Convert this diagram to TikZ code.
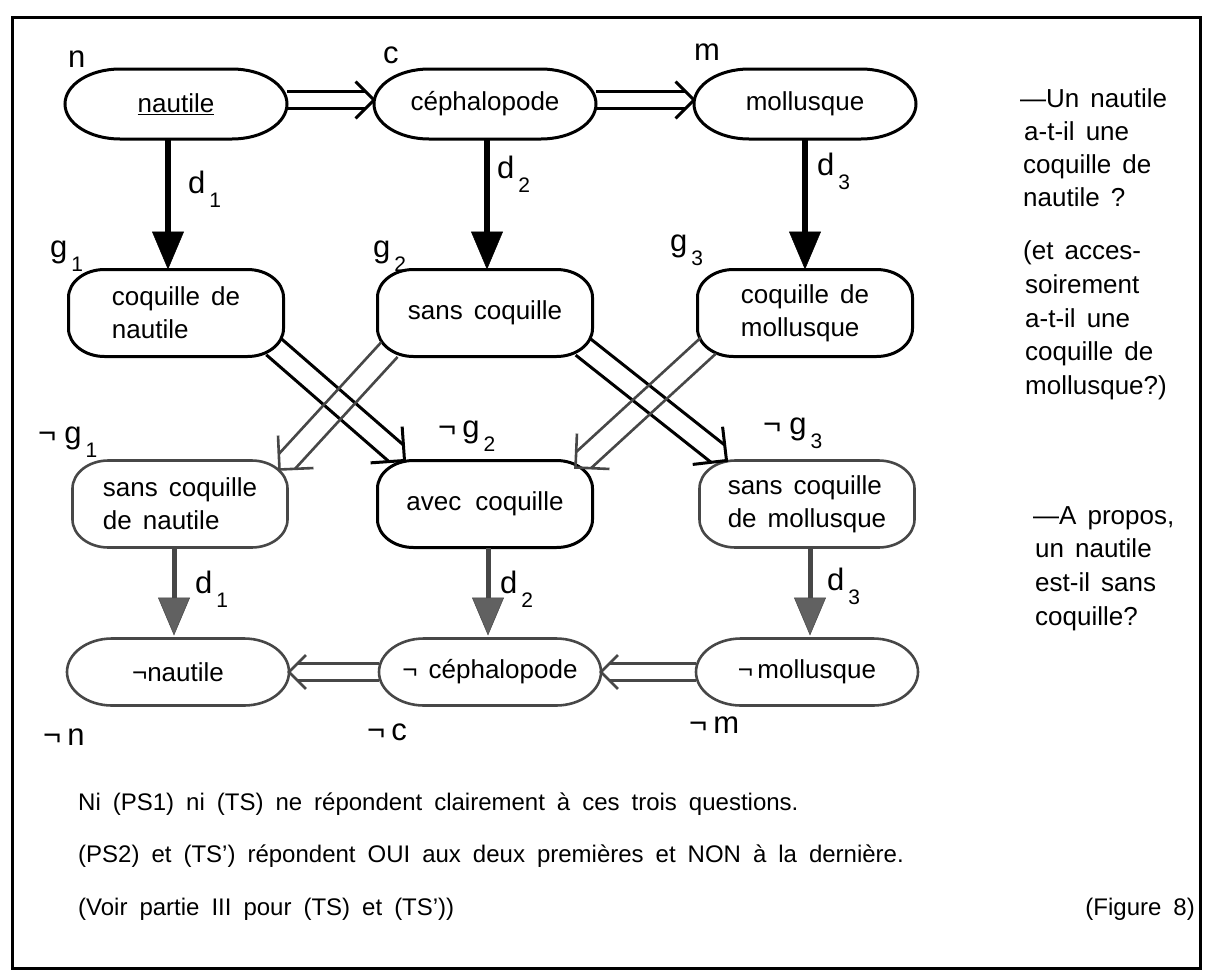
\documentclass[tikz,border=0pt]{standalone}
\usepackage{fontspec}
\setmainfont{Liberation Sans}
\usetikzlibrary{arrows.meta,calc}

\newcommand\boxfont{\fontsize{26}{33}\selectfont\spaceskip=11pt plus 1pt\relax}
\newcommand\labfont{\fontsize{31}{36}\selectfont}
\newcommand\subfont{\fontsize{21}{25}\selectfont}
\newcommand\txtfont{\fontsize{26}{33}\selectfont\spaceskip=11pt plus 1pt\relax}
\newcommand\botfont{\fontsize{24}{30}\selectfont\spaceskip=12pt plus 1pt\relax}
\newcommand\sublab[2]{#1\hspace{4pt}\raisebox{-14pt}{\subfont #2}}

% rounded box outline with elliptic corners
\newcommand\pill[4][]{%
  \draw[#1] ([xshift=#3]#2.north west) -- ([xshift=-#3]#2.north east)
    arc[start angle=90, end angle=0, x radius=#3, y radius=#4]
    -- ([yshift=#4]#2.south east)
    arc[start angle=0, end angle=-90, x radius=#3, y radius=#4]
    -- ([xshift=#3]#2.south west)
    arc[start angle=270, end angle=180, x radius=#3, y radius=#4]
    -- ([yshift=-#4]#2.north west)
    arc[start angle=180, end angle=90, x radius=#3, y radius=#4]
    -- cycle;}

% double-line arrow with open chevron head
\newcommand\dblarrow[5]{%
  \path #2 coordinate (dA) #3 coordinate (dB);
  \path ($(dB)!#4!(dA)$) coordinate (dE);
  \draw[#1] ($(dA)!#4!90:(dB)$) -- ($(dE)!#4!-90:(dA)$);
  \draw[#1] ($(dA)!#4!-90:(dB)$) -- ($(dE)!#4!90:(dA)$);
  \draw[#1, line join=miter] ($(dB)!#5!45:(dA)$) -- (dB) -- ($(dB)!#5!-45:(dA)$);}

\begin{document}
\begin{tikzpicture}[x=1pt,y=1pt,
  b1/.style={inner sep=0pt, outer sep=0pt, minimum width=222pt, minimum height=70pt, align=left, font=\boxfont},
  b2/.style={inner sep=0pt, outer sep=0pt, minimum width=215pt, minimum height=87pt, align=left, font=\boxfont},
  b4/.style={inner sep=0pt, outer sep=0pt, minimum width=222pt, minimum height=67pt, align=left, font=\boxfont},
  pb/.style={line width=3pt},
  pg/.style={line width=2.6pt, draw=black!72},
  dbk/.style={line width=3pt},
  dgy/.style={line width=2.6pt, draw=black!72},
  darrow/.style={line width=6pt, -{Triangle[length=38pt, width=32pt, line width=0.5pt]}},
  ndarrow/.style={line width=5pt, draw=black!72, shorten >=3pt,
     -{Triangle[length=38pt, width=32pt, line width=0.5pt, fill=black!62]}},
  lab/.style={font=\labfont, anchor=base west, inner sep=0pt},
  txt/.style={font=\txtfont, anchor=base west, inner sep=0pt},
  bot/.style={font=\botfont, anchor=base west, inner sep=0pt}]

\useasboundingbox (0,0) rectangle (1208,-972);
\draw[line width=3pt] (12,-17) rectangle (1200,-968);

% boxes
\node[b1] (n)   at (176,-104) {\underline{nautile}};
\node[b1] (c)   at (485,-104) {céphalopode};
\node[b1] (m)   at (805,-104) {mollusque};
\node[b2] (g1)  at (176,-313) {coquille de\\nautile};
\node[b2] (g2)  at (485,-313) {sans coquille};
\node[b2] (g3)  at (805,-313) {coquille de\\mollusque};
\node[b2] (ng1) at (180,-504) {sans coquille\\de nautile};
\node[b2] (ng2) at (485,-504) {avec\hspace{14pt}coquille};
\node[b2] (ng3) at (807,-504) {sans coquille\\de mollusque};
\node[b4] (nn)  at (178,-672) {¬nautile};
\node[b4] (nc)  at (490,-672) {¬ céphalopode};
\node[b4] (nm)  at (807,-672) {¬\,mollusque};

\pill[pb]{n}{55pt}{35pt}
\pill[pb]{c}{55pt}{35pt}
\pill[pb]{m}{55pt}{35pt}
\pill[pb]{g1}{36pt}{28pt}
\pill[pb]{g2}{36pt}{28pt}
\pill[pb]{g3}{36pt}{28pt}
\pill[pg]{ng1}{36pt}{28pt}
\pill[pb]{ng2}{36pt}{28pt}
\pill[pg]{ng3}{36pt}{28pt}
\pill[pg]{nn}{45pt}{33.5pt}
\pill[pg]{nc}{45pt}{33.5pt}
\pill[pg]{nm}{45pt}{33.5pt}

% d arrows
\draw[darrow] ([xshift=-8pt]n.south) -- ([xshift=-8pt]n.south |- g1.north);
\draw[darrow] ([xshift=2pt]c.south) -- ([xshift=2pt]c.south |- g2.north);
\draw[darrow] (m.south) -- (m.south |- g3.north);
\draw[ndarrow] ([xshift=-6pt]ng1.south) -- ([xshift=-6pt]ng1.south |- nn.north);
\draw[ndarrow] ([xshift=3pt]ng2.south) -- ([xshift=3pt]ng2.south |- nc.north);
\draw[ndarrow] ([xshift=3pt]ng3.south) -- ([xshift=3pt]ng3.south |- nm.north);

% double arrows
\dblarrow{dbk}{([yshift=4pt]n.east)}{([yshift=4pt]c.west)}{8.5pt}{26pt}
\dblarrow{dbk}{([yshift=4pt]c.east)}{([yshift=4pt]m.west)}{8.5pt}{26pt}
\dblarrow{dbk}{([xshift=-10pt,yshift=10pt]g1.south east)}{([xshift=27pt]ng2.north west)}{11pt}{34pt}
\dblarrow{dbk}{([xshift=-10pt,yshift=10pt]g2.south east)}{([xshift=27pt]ng3.north west)}{11pt}{34pt}
\dblarrow{dgy}{([xshift=12pt,yshift=7pt]g2.south west)}{([xshift=-8pt,yshift=-9pt]ng1.north east)}{11pt}{34pt}
\dblarrow{dgy}{([xshift=11pt,yshift=11pt]g3.south west)}{([xshift=-17pt,yshift=-7pt]ng2.north east)}{11pt}{34pt}
\dblarrow{dgy}{(nc.west)}{(nn.east)}{8.5pt}{24pt}
\dblarrow{dgy}{(nm.west)}{(nc.east)}{8.5pt}{24pt}

% labels
\node[lab] (ln)   at (68,-67)   {n};
\node[lab] (lc)   at (383,-63)  {c};
\node[lab] (lm)   at (694,-60)  {m};
\node[lab] (ld1)  at (188,-193) {\sublab{d}{1}};
\node[lab] (ld2)  at (497,-178) {\sublab{d}{2}};
\node[lab] (ld3)  at (817,-175) {\sublab{d}{3}};
\node[lab] (lg1)  at (50,-257)  {\sublab{g}{1}};
\node[lab] (lg2)  at (373,-257) {\sublab{g}{2}};
\node[lab] (lg3)  at (670,-251) {\sublab{g}{3}};
\node[lab] (lng1) at (38,-443)  {¬\hspace{8pt}\sublab{g}{1}};
\node[lab] (lng2) at (438,-437) {¬\hspace{6pt}\sublab{g}{2}};
\node[lab] (lng3) at (763,-434) {¬\hspace{8pt}\sublab{g}{3}};
\node[lab] (lnd1) at (195,-593) {\sublab{d}{1}};
\node[lab] (lnd2) at (500,-593) {\sublab{d}{2}};
\node[lab] (lnd3) at (827,-590) {\sublab{d}{3}};
\node[lab] (lnn)  at (43,-745)  {¬\hspace{6pt}n};
\node[lab] (lnc)  at (367,-740) {¬\hspace{6pt}c};
\node[lab] (lnm)  at (689,-733) {¬\hspace{6pt}m};

% right-hand questions
\node[txt] (r1)  at (1020,-107) {—Un nautile};
\node[txt] (r2)  at (1024,-140) {a-t-il une};
\node[txt] (r3)  at (1023,-173) {coquille de};
\node[txt] (r4)  at (1023,-206) {nautile ?};
\node[txt] (r5)  at (1023,-259) {(et acces-};
\node[txt] (r6)  at (1025,-293) {soirement};
\node[txt] (r7)  at (1025,-327) {a-t-il une};
\node[txt] (r8)  at (1025,-360) {coquille de};
\node[txt] (r9)  at (1025,-394) {mollusque?)};
\node[txt] (r10) at (1033,-524) {—A propos,};
\node[txt] (r11) at (1035,-557) {un nautile};
\node[txt] (r12) at (1035,-591) {est-il sans};
\node[txt] (r13) at (1035,-625) {coquille?};

% bottom text
\node[bot] (t1) at (78,-810) {Ni (PS1) ni (TS) ne répondent clairement à ces trois questions.};
\node[bot] (t2) at (78,-862) {(PS2) et (TS') répondent OUI aux deux premières et NON à la dernière.};
\node[bot] (t3) at (78,-915) {(Voir partie III pour (TS) et (TS'))};
\node[bot, anchor=base east] (t4) at (1195,-915) {(Figure 8)};
\end{tikzpicture}
\end{document}
